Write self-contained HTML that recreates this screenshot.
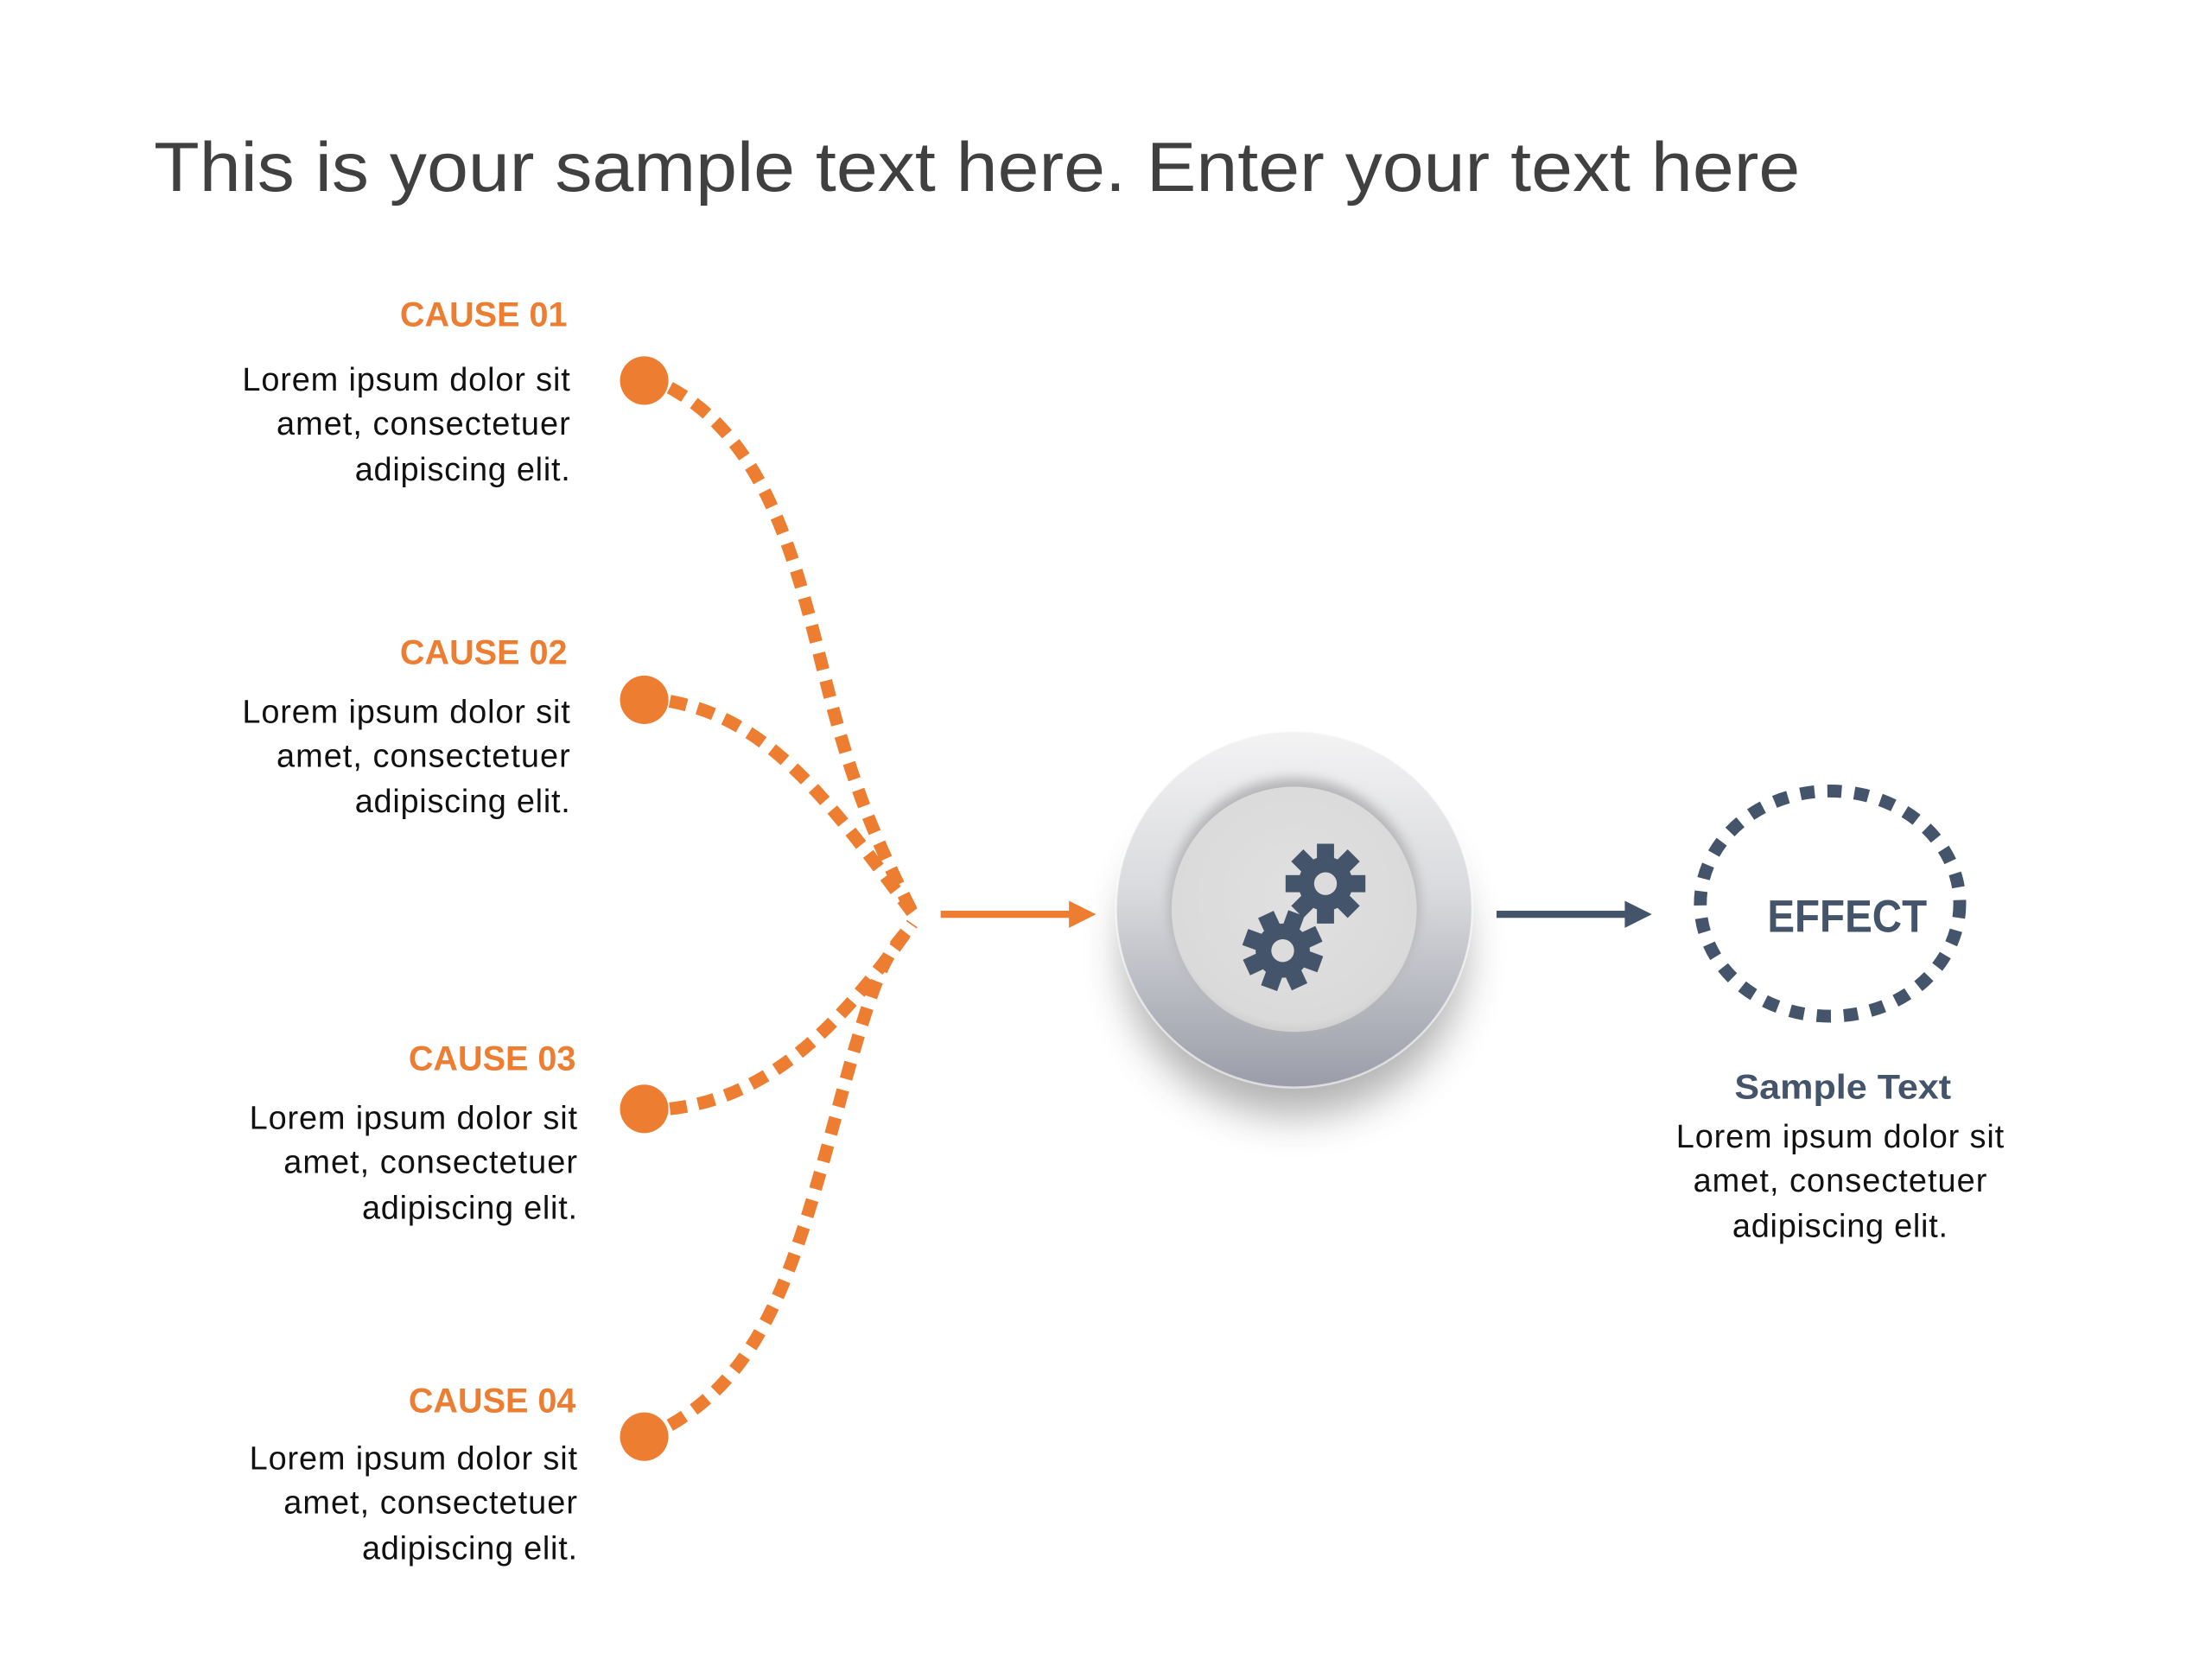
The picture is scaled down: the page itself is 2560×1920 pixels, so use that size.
<!DOCTYPE html>
<html><head><meta charset="utf-8"><style>
html,body{margin:0;padding:0;background:#fff;}
svg{display:block;}
</style></head><body>
<svg width="2560" height="1920" viewBox="0 0 1552 1164" xmlns="http://www.w3.org/2000/svg">
<defs>
<linearGradient id="ring" x1="0" y1="0" x2="0" y2="1">
<stop offset="0" stop-color="#f3f3f4"/><stop offset="0.45" stop-color="#d9dadd"/><stop offset="1" stop-color="#9a9ca8"/>
</linearGradient>
<radialGradient id="inner" cx="0.5" cy="0.45" r="0.6">
<stop offset="0" stop-color="#e0e0e0"/><stop offset="0.85" stop-color="#dadada"/><stop offset="1" stop-color="#c4c4c6"/>
</radialGradient>
<filter id="blur" x="-50%" y="-50%" width="200%" height="200%"><feGaussianBlur stdDeviation="14"/></filter>
<filter id="blur2" x="-50%" y="-50%" width="200%" height="200%"><feGaussianBlur stdDeviation="4"/></filter>
<g id="gear">
<circle r="19" fill="#44546A"/>
<g fill="#44546A">
<rect x="-6" y="-28" width="12" height="12"/>
<rect x="-6" y="-28" width="12" height="12" transform="rotate(45)"/>
<rect x="-6" y="-28" width="12" height="12" transform="rotate(90)"/>
<rect x="-6" y="-28" width="12" height="12" transform="rotate(135)"/>
<rect x="-6" y="-28" width="12" height="12" transform="rotate(180)"/>
<rect x="-6" y="-28" width="12" height="12" transform="rotate(225)"/>
<rect x="-6" y="-28" width="12" height="12" transform="rotate(270)"/>
<rect x="-6" y="-28" width="12" height="12" transform="rotate(315)"/>
</g>
<circle r="8" fill="#dcdcdc"/>
</g>
</defs>

<text x="108" y="134" font-family="Liberation Sans, sans-serif" font-size="49" fill="#404040" textLength="1155" lengthAdjust="spacingAndGlyphs">This is your sample text here. Enter your text here</text>

<g font-family="Liberation Sans, sans-serif" text-anchor="end">
<g font-weight="bold" font-size="24" fill="#ED7D31">
<text x="398" y="229">CAUSE 01</text>
<text x="398" y="466">CAUSE 02</text>
<text x="404" y="751">CAUSE 03</text>
<text x="404" y="991">CAUSE 04</text>
</g>
<g font-size="23" fill="#111" lengthAdjust="spacingAndGlyphs">
<text x="400" y="274" textLength="230">Lorem ipsum dolor sit</text>
<text x="400" y="305" textLength="206">amet, consectetuer</text>
<text x="400" y="337" textLength="151">adipiscing elit.</text>
<text x="400" y="507" textLength="230">Lorem ipsum dolor sit</text>
<text x="400" y="538" textLength="206">amet, consectetuer</text>
<text x="400" y="570" textLength="151">adipiscing elit.</text>
<text x="405" y="792" textLength="230">Lorem ipsum dolor sit</text>
<text x="405" y="823" textLength="206">amet, consectetuer</text>
<text x="405" y="855" textLength="151">adipiscing elit.</text>
<text x="405" y="1031" textLength="230">Lorem ipsum dolor sit</text>
<text x="405" y="1062" textLength="206">amet, consectetuer</text>
<text x="405" y="1094" textLength="151">adipiscing elit.</text>
</g>
</g>

<g fill="none" stroke="#ED7D31" stroke-width="9" stroke-dasharray="12 8">
<path d="M470 272 C540 310 560 400 580 480 S620 600 640 640"/>
<path d="M470 492 C540 505 580 560 640 640"/>
<path d="M470 778 C540 770 590 720 640 648"/>
<path d="M470 1000 C540 960 560 880 590 770 S625 670 640 648"/>
</g>
<g fill="#ED7D31">
<circle cx="452" cy="267" r="17"/>
<circle cx="452" cy="491" r="17"/>
<circle cx="452" cy="778" r="17"/>
<circle cx="452" cy="1008" r="17"/>
<rect x="660" y="639" width="92" height="5"/>
<polygon points="750,632 769,641.5 750,651"/>
</g>

<ellipse cx="908" cy="668" rx="120" ry="115" fill="#555" opacity="0.45" filter="url(#blur)"/>
<circle cx="908" cy="638" r="125" fill="url(#ring)"/>
<circle cx="908" cy="638" r="125" fill="none" stroke="#fff" stroke-opacity="0.6" stroke-width="1.5"/>
<circle cx="908" cy="634" r="88" fill="#b5b5b8" filter="url(#blur2)"/>
<circle cx="908" cy="638" r="86" fill="url(#inner)"/>
<use href="#gear" transform="translate(930 620)"/>
<use href="#gear" transform="translate(900 667) rotate(20)"/>

<rect x="1050" y="639" width="92" height="5" fill="#44546A"/>
<polygon points="1140,632 1159,641.5 1140,651" fill="#44546A"/>

<ellipse cx="1284" cy="634" rx="91" ry="79" fill="none" stroke="#44546A" stroke-width="9" stroke-dasharray="10 9"/>
<text x="1296" y="654" font-family="Liberation Sans, sans-serif" font-weight="bold" font-size="32" fill="#44546A" text-anchor="middle" textLength="112" lengthAdjust="spacingAndGlyphs">EFFECT</text>

<g font-family="Liberation Sans, sans-serif" text-anchor="middle">
<text x="1293" y="771" font-weight="bold" font-size="24" fill="#44546A" textLength="152" lengthAdjust="spacingAndGlyphs">Sample Text</text>
<g font-size="23" fill="#111" lengthAdjust="spacingAndGlyphs">
<text x="1291" y="805" textLength="230">Lorem ipsum dolor sit</text>
<text x="1291" y="836" textLength="206">amet, consectetuer</text>
<text x="1291" y="868" textLength="151">adipiscing elit.</text>
</g>
</g>
</svg>
</body></html>
